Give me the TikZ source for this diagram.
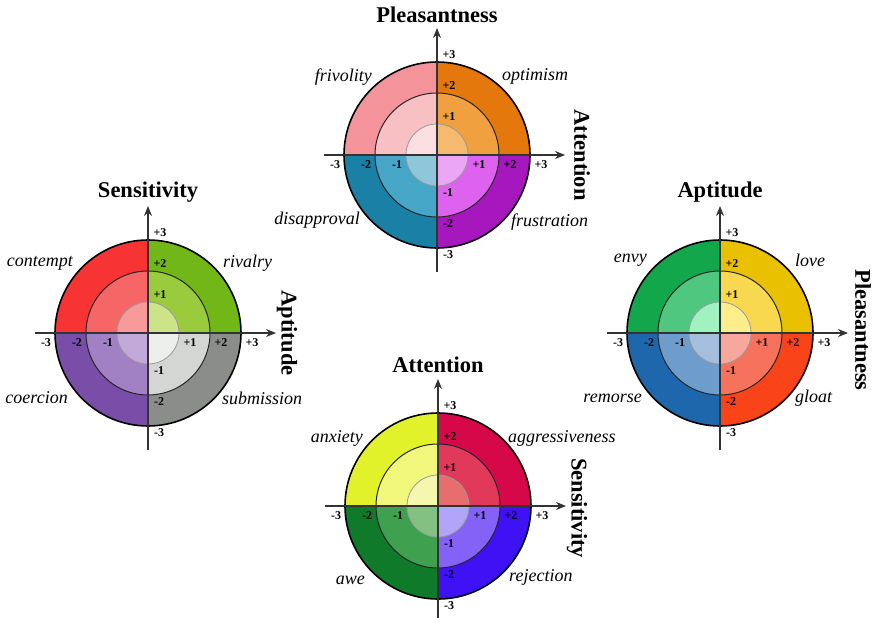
\documentclass[tikz,border=0pt]{standalone}
\usepackage{fontspec}
\setmainfont{Liberation Serif}
\usetikzlibrary{arrows.meta, calc}

% top wheel
\definecolor{TUL1}{HTML}{F4939A}\definecolor{TUL2}{HTML}{F9C0C4}\definecolor{TUL3}{HTML}{FBDEDF}
\definecolor{TUR1}{HTML}{E5780D}\definecolor{TUR2}{HTML}{F0A03F}\definecolor{TUR3}{HTML}{F5BA6E}
\definecolor{TLL1}{HTML}{1B80A6}\definecolor{TLL2}{HTML}{45A6C8}\definecolor{TLL3}{HTML}{8FC6D9}
\definecolor{TLR1}{HTML}{A617BD}\definecolor{TLR2}{HTML}{DD63EE}\definecolor{TLR3}{HTML}{EBA6F5}
% left wheel
\definecolor{LUL1}{HTML}{F73333}\definecolor{LUL2}{HTML}{F76666}\definecolor{LUL3}{HTML}{F99A9A}
\definecolor{LUR1}{HTML}{71B717}\definecolor{LUR2}{HTML}{99CB3D}\definecolor{LUR3}{HTML}{CCE388}
\definecolor{LLL1}{HTML}{7A4DA8}\definecolor{LLL2}{HTML}{A181C4}\definecolor{LLL3}{HTML}{C3A8DA}
\definecolor{LLR1}{HTML}{8A8D8A}\definecolor{LLR2}{HTML}{D3D6D3}\definecolor{LLR3}{HTML}{EDEFED}
% right wheel
\definecolor{RUL1}{HTML}{12A74A}\definecolor{RUL2}{HTML}{50C77F}\definecolor{RUL3}{HTML}{A2F1C1}
\definecolor{RUR1}{HTML}{E9C100}\definecolor{RUR2}{HTML}{F8D84E}\definecolor{RUR3}{HTML}{FCEE8A}
\definecolor{RLL1}{HTML}{1F67AD}\definecolor{RLL2}{HTML}{6E9DCB}\definecolor{RLL3}{HTML}{A6BEDE}
\definecolor{RLR1}{HTML}{F9441A}\definecolor{RLR2}{HTML}{F7725D}\definecolor{RLR3}{HTML}{F8A79D}
% bottom wheel
\definecolor{BUL1}{HTML}{E2F22A}\definecolor{BUL2}{HTML}{F1F77B}\definecolor{BUL3}{HTML}{F6F7AE}
\definecolor{BUR1}{HTML}{D6084A}\definecolor{BUR2}{HTML}{E0395A}\definecolor{BUR3}{HTML}{E86E6E}
\definecolor{BLL1}{HTML}{0F7A2A}\definecolor{BLL2}{HTML}{3FA04F}\definecolor{BLL3}{HTML}{82C182}
\definecolor{BLR1}{HTML}{3F12F5}\definecolor{BLR2}{HTML}{8462F7}\definecolor{BLR3}{HTML}{B2A4F9}

\tikzset{
  axis/.style={draw=black!80, line width=1.2pt, -{Stealth[length=10pt,width=8pt]}},
  ring1/.style={draw=black, line width=1.6pt},
  ring2/.style={draw=black!85, line width=1pt},
  ring3/.style={draw=black!40, line width=0.8pt},
  tick/.style={font=\fontsize{12}{14}\selectfont\bfseries, inner sep=0pt},
  axtitle/.style={font=\fontsize{22.5}{26}\selectfont\bfseries, inner sep=0pt},
  emo/.style={font=\fontsize{18}{21}\selectfont\itshape, inner sep=0pt}
}

% one wheel: #1 = centre coordinate, #2 = colour prefix
\newcommand{\emowheel}[2]{%
  \foreach \q/\a in {UR/270,UL/180,LL/90,LR/0}{
    \foreach \r/\k in {93/1,62/2,31/3}{
      \fill[fill=#2\q\k] (#1) -- ++(\a:\r) arc[start angle=\a, end angle=\a+90, radius=\r] -- cycle;
    }
  }
  \draw[ring3] (#1) circle[radius=31];
  \draw[ring2] (#1) circle[radius=62];
  \draw[ring1] (#1) circle[radius=93];
  \coordinate (#1-l) at ($(#1)+(-113,0)$);
  \coordinate (#1-r) at ($(#1)+(128,0)$);
  \coordinate (#1-b) at ($(#1)+(0,117)$);
  \coordinate (#1-t) at ($(#1)+(0,-127)$);
  \draw[axis] (#1-l) -- (#1-r);
  \draw[axis] (#1-b) -- (#1-t);
  \foreach \k in {1,2,3}{
    \node[tick] (#1-xp\k) at ($(#1)+({31*\k+11},10)$) {+\k};
    \node[tick] (#1-xm\k) at ($(#1)+({-31*\k-9},10)$) {-\k};
    \node[tick] (#1-yp\k) at ($(#1)+(12,{-31*\k-7})$) {+\k};
    \node[tick] (#1-ym\k) at ($(#1)+(11,{31*\k+7})$) {-\k};
  }
}

\begin{document}
\begin{tikzpicture}[x=1pt, y=-1pt]
  \useasboundingbox (0,0) rectangle (875,618);

  \coordinate (T) at (437,155);
  \coordinate (L) at (148,333);
  \coordinate (R) at (720,333);
  \coordinate (B) at (438,506);

  \emowheel{T}{T}
  \emowheel{L}{L}
  \emowheel{R}{R}
  \emowheel{B}{B}

  \node[axtitle] (T-title) at ($(T)+(0,-140)$) {Pleasantness};
  \node[axtitle, rotate=-90] (T-side) at ($(T)+(145,0)$) {Attention};
  \node[emo, anchor=east] (T-ul) at ($(T)+(-65,-78)$) {frivolity};
  \node[emo, anchor=west] (T-ur) at ($(T)+(65,-79)$) {optimism};
  \node[emo, anchor=east] (T-ll) at ($(T)+(-77,65)$) {disapproval};
  \node[emo, anchor=west] (T-lr) at ($(T)+(74,67)$) {frustration};

  \node[axtitle] (L-title) at ($(L)+(0,-141)$) {Sensitivity};
  \node[axtitle, rotate=-90] (L-side) at ($(L)+(139,0)$) {Aptitude};
  \node[emo, anchor=east] (L-ul) at ($(L)+(-75,-70)$) {contempt};
  \node[emo, anchor=west] (L-ur) at ($(L)+(75,-70)$) {rivalry};
  \node[emo, anchor=east] (L-ll) at ($(L)+(-80,65)$) {coercion};
  \node[emo, anchor=west] (L-lr) at ($(L)+(74,65)$) {submission};

  \node[axtitle] (R-title) at ($(R)+(0,-141)$) {Aptitude};
  \node[axtitle, rotate=-90] (R-side) at ($(R)+(143,-3)$) {Pleasantness};
  \node[emo, anchor=east] (R-ul) at ($(R)+(-73,-73)$) {envy};
  \node[emo, anchor=west] (R-ur) at ($(R)+(75,-73)$) {love};
  \node[emo, anchor=east] (R-ll) at ($(R)+(-78,65)$) {remorse};
  \node[emo, anchor=west] (R-lr) at ($(R)+(75,65)$) {gloat};

  \node[axtitle] (B-title) at ($(B)+(0,-141)$) {Attention};
  \node[axtitle, rotate=-90] (B-side) at ($(B)+(139,2)$) {Sensitivity};
  \node[emo, anchor=east] (B-ul) at ($(B)+(-75,-68)$) {anxiety};
  \node[emo, anchor=west] (B-ur) at ($(B)+(70,-68)$) {aggressiveness};
  \node[emo, anchor=east] (B-ll) at ($(B)+(-73,74)$) {awe};
  \node[emo, anchor=west] (B-lr) at ($(B)+(71,71)$) {rejection};
\end{tikzpicture}
\end{document}
